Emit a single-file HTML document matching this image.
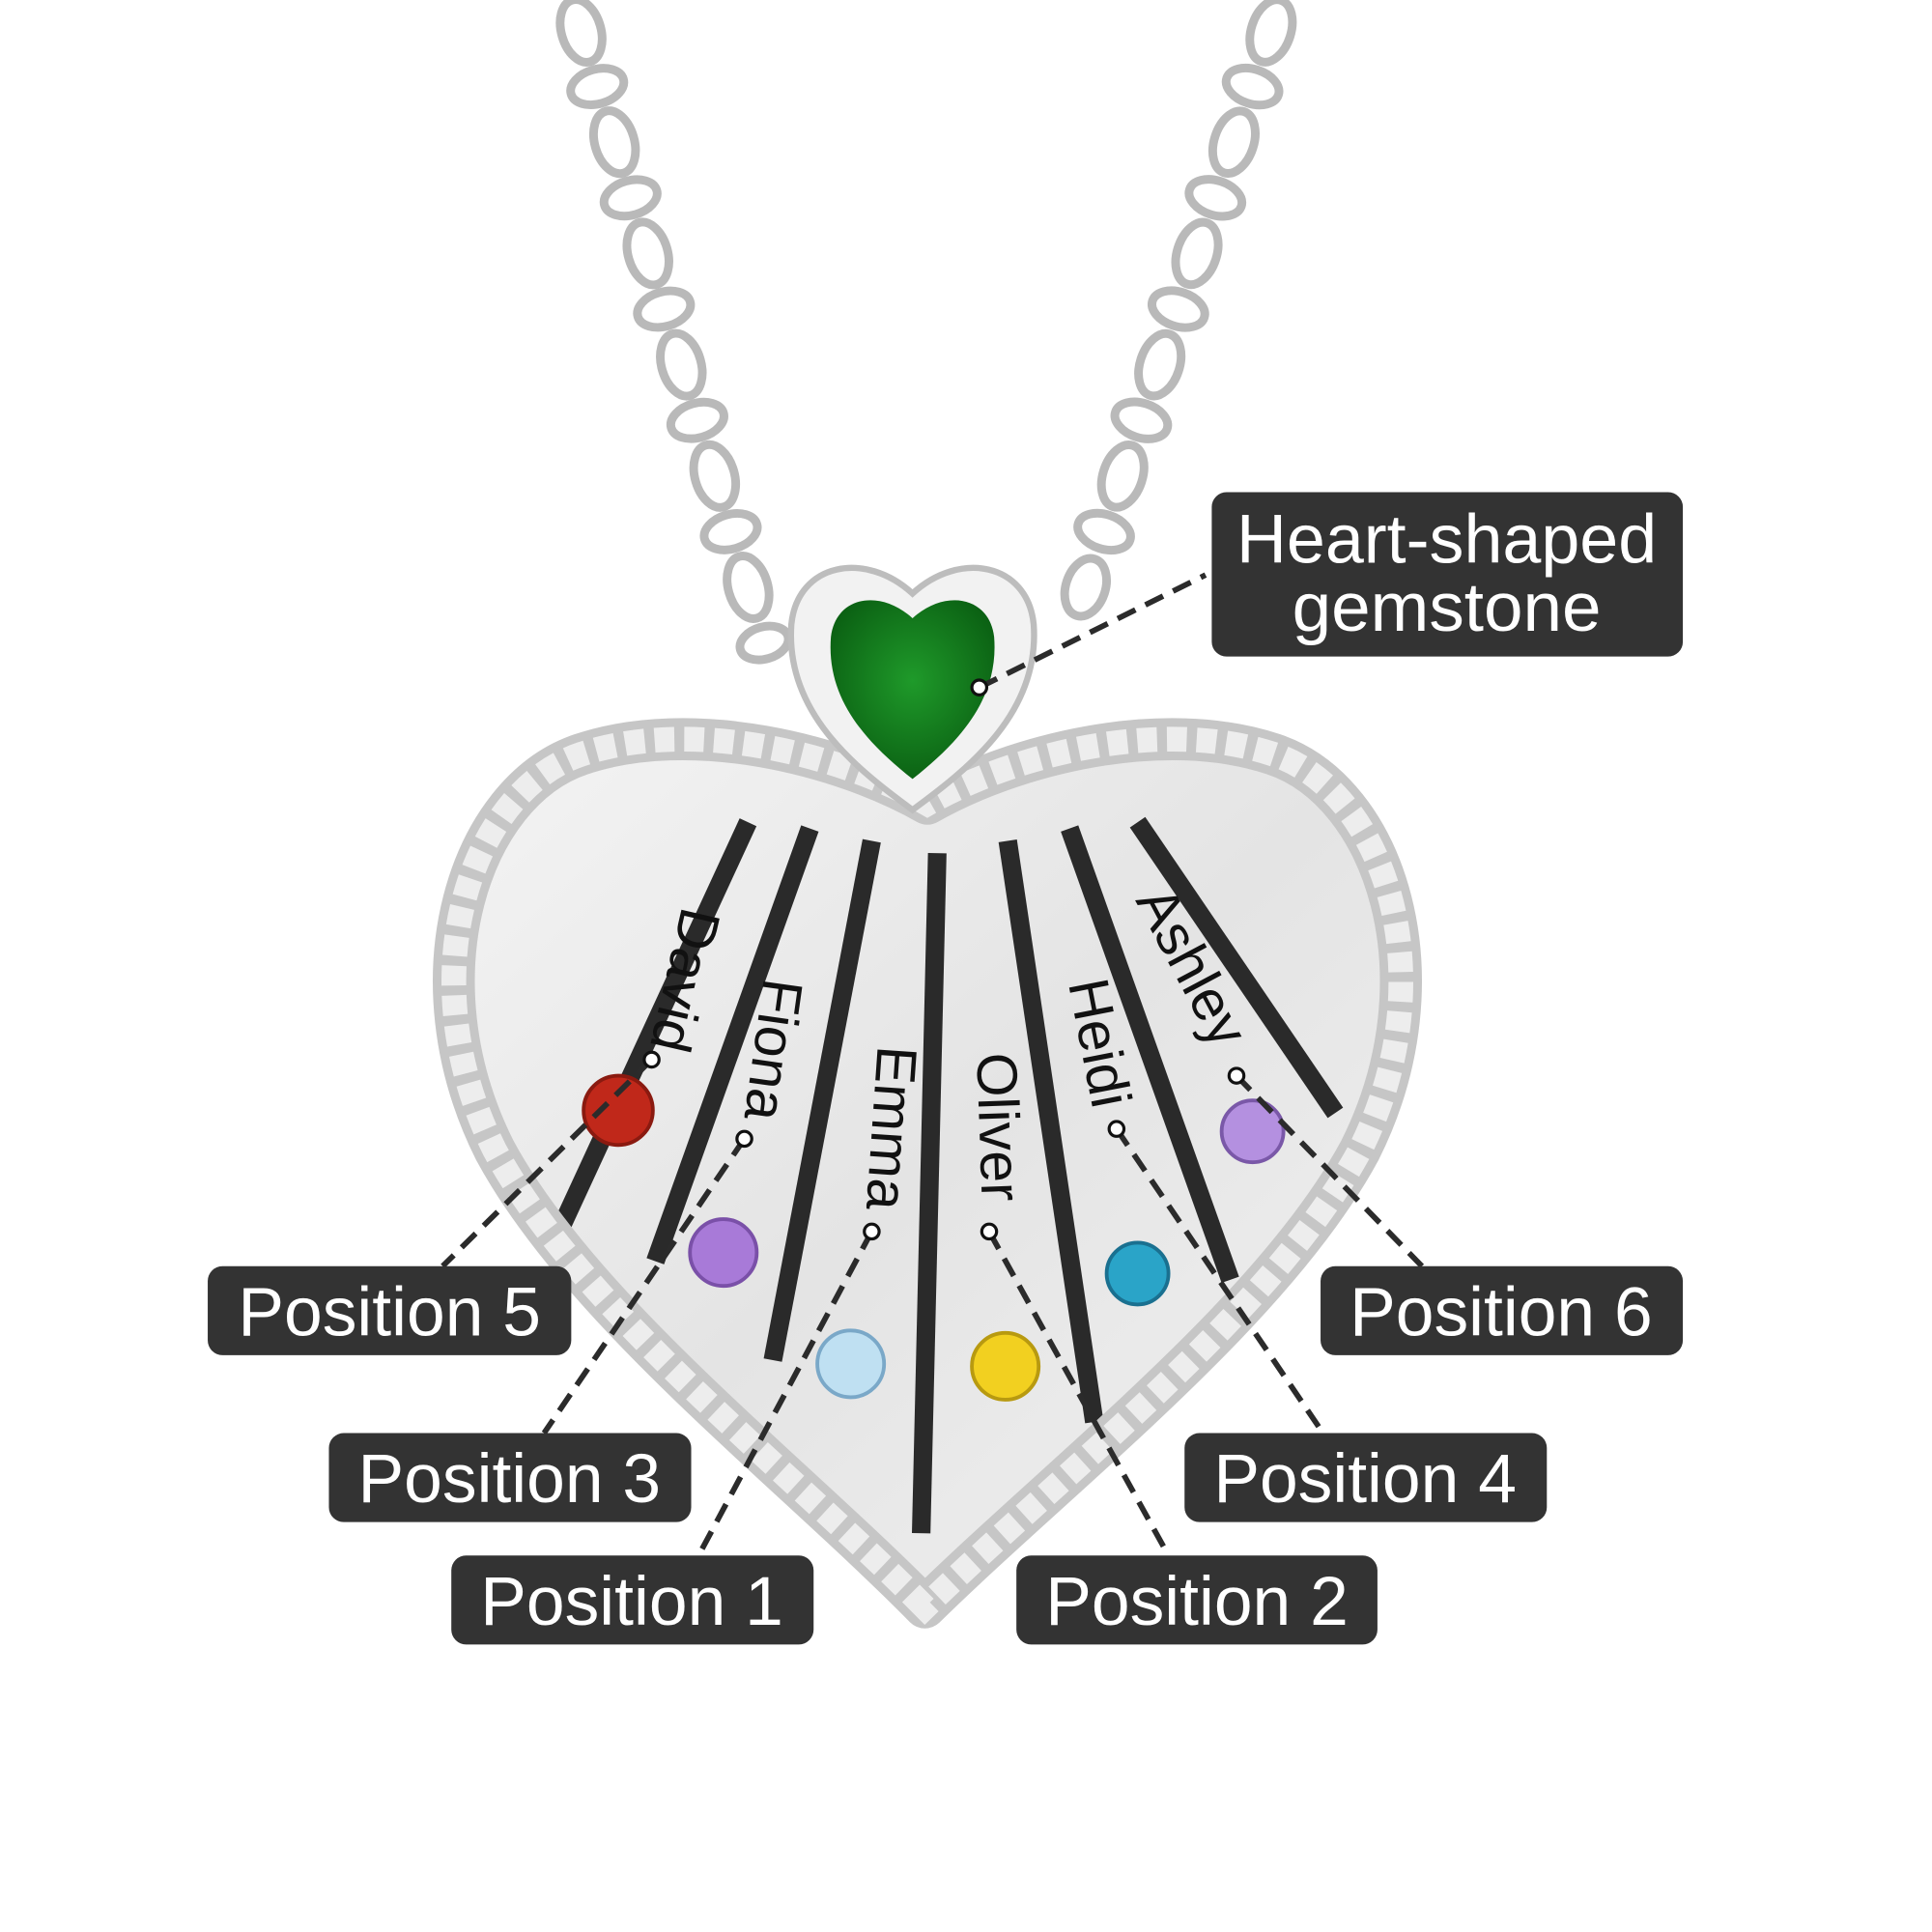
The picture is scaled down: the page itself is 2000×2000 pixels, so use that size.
<!DOCTYPE html>
<html><head><meta charset="utf-8"><style>html,body{margin:0;padding:0;background:#fff}svg{display:block}</style></head>
<body>
<svg width="2000" height="2000" viewBox="0 0 1562.5 1562.5" xmlns="http://www.w3.org/2000/svg">
<defs>
<linearGradient id="met" x1="0" y1="0" x2="1" y2="1">
<stop offset="0" stop-color="#f4f4f4"/><stop offset="0.5" stop-color="#e4e4e4"/><stop offset="1" stop-color="#f2f2f2"/>
</linearGradient>
<radialGradient id="grn" cx="0.5" cy="0.45" r="0.6"><stop offset="0" stop-color="#1f9a2a"/><stop offset="1" stop-color="#0a5e12"/></radialGradient>
<clipPath id="hc"><path d="M748,1300 C640,1190 470,1060 400,930 C330,790 380,640 470,610 C560,580 680,610 750,650 C820,610 940,580 1030,610 C1120,640 1170,790 1100,930 C1030,1060 860,1190 748,1300 Z"/></clipPath>
</defs>
<g fill="none" stroke="#b9b9b9" stroke-width="7">
<ellipse cx="470" cy="25" rx="16" ry="26" transform="rotate(-16 470 25)"/>
<ellipse cx="483" cy="70" rx="22" ry="14" transform="rotate(-16 483 70)"/>
<ellipse cx="497" cy="115" rx="16" ry="26" transform="rotate(-16 497 115)"/>
<ellipse cx="510" cy="160" rx="22" ry="14" transform="rotate(-16 510 160)"/>
<ellipse cx="524" cy="205" rx="16" ry="26" transform="rotate(-16 524 205)"/>
<ellipse cx="537" cy="250" rx="22" ry="14" transform="rotate(-16 537 250)"/>
<ellipse cx="551" cy="295" rx="16" ry="26" transform="rotate(-16 551 295)"/>
<ellipse cx="564" cy="340" rx="22" ry="14" transform="rotate(-16 564 340)"/>
<ellipse cx="578" cy="385" rx="16" ry="26" transform="rotate(-16 578 385)"/>
<ellipse cx="591" cy="430" rx="22" ry="14" transform="rotate(-16 591 430)"/>
<ellipse cx="605" cy="475" rx="16" ry="26" transform="rotate(-16 605 475)"/>
<ellipse cx="618" cy="520" rx="20" ry="13" transform="rotate(-16 618 520)"/>
<ellipse cx="1028" cy="25" rx="16" ry="26" transform="rotate(18 1028 25)"/>
<ellipse cx="1013" cy="70" rx="22" ry="14" transform="rotate(18 1013 70)"/>
<ellipse cx="998" cy="115" rx="16" ry="26" transform="rotate(18 998 115)"/>
<ellipse cx="983" cy="160" rx="22" ry="14" transform="rotate(18 983 160)"/>
<ellipse cx="968" cy="205" rx="16" ry="26" transform="rotate(18 968 205)"/>
<ellipse cx="953" cy="250" rx="22" ry="14" transform="rotate(18 953 250)"/>
<ellipse cx="938" cy="295" rx="16" ry="26" transform="rotate(18 938 295)"/>
<ellipse cx="923" cy="340" rx="22" ry="14" transform="rotate(18 923 340)"/>
<ellipse cx="908" cy="385" rx="16" ry="26" transform="rotate(18 908 385)"/>
<ellipse cx="893" cy="430" rx="22" ry="14" transform="rotate(18 893 430)"/>
<ellipse cx="878" cy="475" rx="16" ry="24" transform="rotate(18 878 475)"/>
</g>
<path d="M748,1300 C640,1190 470,1060 400,930 C330,790 380,640 470,610 C560,580 680,610 750,650 C820,610 940,580 1030,610 C1120,640 1170,790 1100,930 C1030,1060 860,1190 748,1300 Z" fill="url(#met)"/>
<g clip-path="url(#hc)" stroke="#2a2a2a" stroke-width="15" fill="none">
<line x1="605" y1="665" x2="455" y2="990"/>
<line x1="655" y1="670" x2="530" y2="1020"/>
<line x1="705" y1="680" x2="625" y2="1100"/>
<line x1="758" y1="690" x2="745" y2="1240"/>
<line x1="815" y1="680" x2="885" y2="1150"/>
<line x1="865" y1="670" x2="995" y2="1035"/>
<line x1="920" y1="665" x2="1080" y2="900"/>
</g>
<path d="M748,1300 C640,1190 470,1060 400,930 C330,790 380,640 470,610 C560,580 680,610 750,650 C820,610 940,580 1030,610 C1120,640 1170,790 1100,930 C1030,1060 860,1190 748,1300 Z" fill="none" stroke="#c6c6c6" stroke-width="34" stroke-linejoin="round"/>
<path d="M748,1300 C640,1190 470,1060 400,930 C330,790 380,640 470,610 C560,580 680,610 750,650 C820,610 940,580 1030,610 C1120,640 1170,790 1100,930 C1030,1060 860,1190 748,1300 Z" fill="none" stroke="#ededed" stroke-width="20" stroke-dasharray="16 8"/>
<path d="M738,655 C690,620 635,575 640,505 C645,455 700,445 738,480 C776,445 831,455 836,505 C841,575 786,620 738,655 Z" fill="#f2f2f2" stroke="#bdbdbd" stroke-width="5"/>
<path d="M738,630 C700,600 668,565 672,515 C676,482 712,476 738,500 C764,476 800,482 804,515 C808,565 776,600 738,630 Z" fill="url(#grn)"/>
<circle cx="500" cy="898" r="28" fill="#c0281a" stroke="#8a1a10" stroke-width="3"/>
<circle cx="585" cy="1013" r="27" fill="#a87ad8" stroke="#7a50a8" stroke-width="3"/>
<circle cx="688" cy="1103" r="27" fill="#bfe0f2" stroke="#7aa8c8" stroke-width="3"/>
<circle cx="813" cy="1105" r="27" fill="#f2d020" stroke="#b89a10" stroke-width="3"/>
<circle cx="920" cy="1030" r="25" fill="#2aa4c8" stroke="#1a7090" stroke-width="3"/>
<circle cx="1013" cy="915" r="25" fill="#b490e0" stroke="#7a58a8" stroke-width="3"/>
<g font-family="Liberation Sans, sans-serif" font-size="46" fill="#111">
<text transform="translate(552,732) rotate(103)">David</text>
<text transform="translate(618,790) rotate(98)">Fiona</text>
<text transform="translate(710,845) rotate(94)">Emma</text>
<text transform="translate(790,852) rotate(88)">Oliver</text>
<text transform="translate(864,795) rotate(79)">Heidi</text>
<text transform="translate(918,728) rotate(62)">Ashley</text>
</g>
<g stroke="#2b2b2b" stroke-width="4.5" stroke-dasharray="16 9" fill="none">
<line x1="792" y1="556" x2="975" y2="465"/>
<line x1="527" y1="857" x2="358" y2="1024"/>
<line x1="602" y1="921" x2="440" y2="1159"/>
<line x1="705" y1="996" x2="565" y2="1258"/>
<line x1="800" y1="996" x2="945" y2="1258"/>
<line x1="903" y1="913" x2="1070" y2="1159"/>
<line x1="1000" y1="870" x2="1150" y2="1024"/>
</g>
<g fill="#fff" stroke="#111" stroke-width="2.5">
<circle cx="792" cy="556" r="6"/><circle cx="527" cy="857" r="6"/><circle cx="602" cy="921" r="6"/>
<circle cx="705" cy="996" r="6"/><circle cx="800" cy="996" r="6"/><circle cx="903" cy="913" r="6"/><circle cx="1000" cy="870" r="6"/>
</g>
<g fill="#333">
<rect x="980" y="398" width="381" height="133" rx="12"/>
<rect x="168" y="1024" width="294" height="72" rx="12"/>
<rect x="1068" y="1024" width="293" height="72" rx="12"/>
<rect x="266" y="1159" width="293" height="72" rx="12"/>
<rect x="958" y="1159" width="293" height="72" rx="12"/>
<rect x="365" y="1258" width="293" height="72" rx="12"/>
<rect x="822" y="1258" width="292" height="72" rx="12"/>
</g>
<g font-family="Liberation Sans, sans-serif" font-size="56" fill="#fff" text-anchor="middle">
<text x="1170" y="455" textLength="340" lengthAdjust="spacingAndGlyphs">Heart-shaped</text>
<text x="1170" y="510" textLength="250" lengthAdjust="spacingAndGlyphs">gemstone</text>
<text x="315" y="1080" textLength="245" lengthAdjust="spacingAndGlyphs">Position 5</text>
<text x="1214" y="1080" textLength="245" lengthAdjust="spacingAndGlyphs">Position 6</text>
<text x="412" y="1215" textLength="245" lengthAdjust="spacingAndGlyphs">Position 3</text>
<text x="1104" y="1215" textLength="245" lengthAdjust="spacingAndGlyphs">Position 4</text>
<text x="511" y="1314" textLength="245" lengthAdjust="spacingAndGlyphs">Position 1</text>
<text x="968" y="1314" textLength="245" lengthAdjust="spacingAndGlyphs">Position 2</text>
</g>
</svg>
</body></html>
